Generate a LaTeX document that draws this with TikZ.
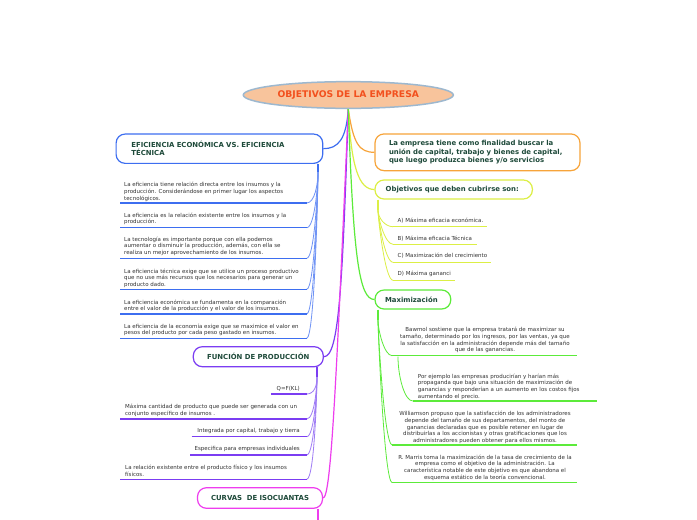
\documentclass[tikz,border=0pt]{standalone}
\usepackage{fontspec}
\setmainfont{DejaVu Sans}
\usetikzlibrary{shapes.geometric,calc}
\definecolor{titfondo}{HTML}{F8C49C}
\definecolor{titborde}{HTML}{9DB8CF}
\definecolor{tittexto}{HTML}{F2501E}
\definecolor{verdeosc}{HTML}{1E4A3A}
\definecolor{texto}{HTML}{333333}
\definecolor{azul}{HTML}{3D6EF0}
\definecolor{azulcl}{HTML}{6F93F5}
\definecolor{morado}{HTML}{7B3DF2}
\definecolor{moradocl}{HTML}{9F7CF5}
\definecolor{rosa}{HTML}{EE3DEE}
\definecolor{naranja}{HTML}{F7A43A}
\definecolor{amarillo}{HTML}{DCEF45}
\definecolor{verde}{HTML}{5CEB3A}
\tikzset{
  titulo/.style={ellipse,draw=titborde,line width=1.5pt,fill=titfondo,minimum width=210pt,
                 minimum height=26.7pt,inner sep=0pt,text=tittexto,font=\fontsize{9.2}{10}\selectfont\bfseries},
  tema/.style={draw,rounded corners=9pt,line width=1.2pt,fill=white,inner ysep=0pt,text=verdeosc,
               font=\fontsize{6.9}{8.2}\selectfont\bfseries},
  hoja/.style={inner sep=0pt,text=texto,font=\fontsize{5.5}{6.7}\selectfont},
  rama/.style={line width=1.2pt},
  fino/.style={line width=0.8pt},
  subraya/.style={line width=1.4pt},
}

\begin{document}
\begin{tikzpicture}[x=1pt,y=-1pt]
  \useasboundingbox[fill=white] (0,0) rectangle (697,520);
  % tema central
  \node[titulo] (tit) at (348.3,95) {OBJETIVOS DE LA EMPRESA};
  % temas principales
  \node[tema,draw=azul,text width=176pt,inner xsep=15.3pt,minimum height=29.3pt,align=left] (efi)
    at (219.4,148.7) {EFICIENCIA ECONÓMICA VS. EFICIENCIA\\TÉCNICA};
  \node[tema,draw=morado,text width=118pt,inner xsep=6pt,minimum height=20pt,align=center] (fun)
    at (258.3,356.7) {FUNCIÓN DE PRODUCCIÓN};
  \node[tema,draw=rosa,text width=113pt,inner xsep=6pt,minimum height=20.6pt,align=center] (cur)
    at (260,498) {CURVAS\ \ DE ISOCUANTAS};
  \node[tema,draw=naranja,text width=177pt,inner xsep=14pt,minimum height=36.7pt,align=left] (emp)
    at (477.5,152.3) {La empresa tiene como finalidad buscar la\\unión de capital, trabajo y bienes de capital,\\que luego produzca bienes y/o servicios};
  \node[tema,draw=amarillo,text width=136pt,inner xsep=10.7pt,minimum height=19pt,align=left] (obj)
    at (453.7,189.5) {Objetivos que deben cubrirse son:};
  \node[tema,draw=verde,text width=55.7pt,inner xsep=10pt,minimum height=19pt,align=left] (max)
    at (412.9,299.5) {Maximización};
  % ramas del tema central
  \draw[rama,azul] (tit.south) .. controls +(-2,30) and +(15,0) .. (efi.east);
  \draw[rama,morado] (tit.south) .. controls +(-6,180) and +(15,0) .. (fun.east);
  \draw[rama,rosa] (tit.south) .. controls +(-12,272) and +(8,0) .. (cur.east);
  \draw[rama,naranja] (tit.south) .. controls +(5,35) and +(-15,0) .. (emp.west);
  \draw[rama,amarillo] (tit.south) .. controls +(3,60) and +(-15,0) .. (obj.west);
  \draw[rama,verde] (tit.south) .. controls +(5,150) and +(-15,0) .. (max.west);

  % eficiencia
  \coordinate (efs) at (318,172);
  \draw[rama,azul] (efi.south -| efs) -- (efs);
  \foreach \n/\ya/\yb/\txt in {
    1/182/203/{La eficiencia tiene relación directa entre los insumos y la\\producción. Considerándose en primer lugar los aspectos\\tecnológicos.},
    2/212.4/227.7/{La eficiencia es la relación existente entre los insumos y la\\producción.},
    3/236.4/258.3/{La tecnología es importante porque con ella podemos\\aumentar o disminuir la producción, además, con ella se\\realiza un mejor aprovechamiento de los insumos.},
    4/268.4/289.3/{La eficiencia técnica exige que se utilice un proceso productivo\\que no use más recursos que los necesarios para generar un\\producto dado.},
    5/299.4/314/{La eficiencia económica se fundamenta en la comparación\\entre el valor de la producción y el valor de los insumos.},
    6/323.4/338.3/{La eficiencia de la economía exige que se maximice el valor en\\pesos del producto por cada peso gastado en insumos.}}{
    \node[hoja,anchor=north west,align=left] (e\n) at (124,\ya) {\txt};
    \coordinate (ea\n) at (120,\yb);
    \coordinate (eb\n) at (306.7,\yb);
    \draw[fino,azulcl] (efs) .. controls +(0,12) and +(8,0) .. (eb\n);
    \draw[subraya,azul] (ea\n) -- (eb\n);
  }

  % funcion de produccion
  \coordinate (fus) at (317,377);
  \draw[rama,morado] (fun.south -| fus) -- (fus);
  \foreach \n/\anc/\x/\y/\xa/\yb/\txt in {
    1/east/300/388.3/271/394/{Q=F(KL)},
    2/north west/125/403.7/120/419/{Máxima cantidad de producto que puede ser generada con un\\conjunto específico de insumos .},
    3/east/300/430.7/191.7/436.7/{Integrada por capital, trabajo y tierra},
    4/east/300/449/190/455/{Especifica para empresas individuales},
    5/north west/125/465/120/479.3/{La relación existente entre el producto físico y los insumos\\físicos.}}{
    \node[hoja,anchor=\anc,align=left] (f\n) at (\x,\y) {\txt};
    \coordinate (fa\n) at (\xa,\yb);
    \coordinate (fb\n) at (306.7,\yb);
    \draw[fino,moradocl] (fus) .. controls +(0,8) and +(8,0) .. (fb\n);
    \draw[subraya,morado] (fa\n) -- (fb\n);
  }

  % curvas de isocuantas
  \coordinate (cus) at (318,524);
  \draw[rama,rosa] (cur.south -| cus) -- (cus);

  % objetivos
  \coordinate (obs) at (378,210);
  \draw[rama,amarillo] (obj.south -| obs) -- (obs);
  \foreach \n/\y/\yb/\xb/\txt in {
    1/220.7/226.7/487/{A) Máxima eficacia económica.},
    2/238.3/244.3/477/{B) Máxima eficacia Técnica},
    3/256/262.3/491/{C) Maximización del crecimiento},
    4/274/280.3/455/{D) Máxima gananci}}{
    \node[hoja,anchor=west] (o\n) at (397.5,\y) {\txt};
    \coordinate (oa\n) at (393,\yb);
    \coordinate (ob\n) at (\xb,\yb);
    \draw[fino,amarillo] (obs) .. controls +(0,8) and +(-8,0) .. (oa\n);
    \draw[subraya,amarillo] (oa\n) -- (ob\n);
  }

  % maximizacion
  \coordinate (mxs) at (378,320);
  \draw[rama,verde] (max.south -| mxs) -- (mxs);
  \foreach \n/\y/\yb/\txt in {
    1/327/355.7/{Bawmol sostiene que la empresa tratará de maximizar su\\tamaño, determinado por los ingresos, por las ventas, ya que\\la satisfacción en la administración depende más del tamaño\\que de las ganancias.},
    3/411/445/{Williamson propuso que la satisfacción de los administradores\\depende del tamaño de sus departamentos, del monto de\\ganancias declaradas que es posible retener en lugar de\\distribuirlas a los accionistas y otras gratificaciones que los\\administradores pueden obtener para ellos mismos.},
    4/454.4/482.7/{R. Marris toma la maximización de la tasa de crecimiento de la\\empresa como el objetivo de la administración. La\\característica notable de este objetivo es que abandona el\\esquema estático de la teoría convencional.}}{
    \node[hoja,anchor=north,align=center] (m\n) at (485,\y) {\txt};
    \coordinate (ma\n) at (392.2,\yb);
    \coordinate (mb\n) at (577,\yb);
    \draw[fino,verde] (mxs) .. controls +(0,10) and +(-8,0) .. (ma\n);
    \draw[subraya,verde] (ma\n) -- (mb\n);
  }
  \node[hoja,anchor=north west,align=left] (m2) at (417.7,373.4) {Por ejemplo las empresas producirían y harían más\\propaganda que bajo una situación de maximización de\\ganancias y responderían a un aumento en los costos fijos\\aumentando el precio.};
  \coordinate (mps) at (398,356.7);
  \coordinate (ma2) at (412.7,401);
  \coordinate (mb2) at (596.7,401);
  \draw[fino,verde] (mps) .. controls +(0,20) and +(-8,0) .. (ma2);
  \draw[subraya,verde] (ma2) -- (mb2);
\end{tikzpicture}
\end{document}
